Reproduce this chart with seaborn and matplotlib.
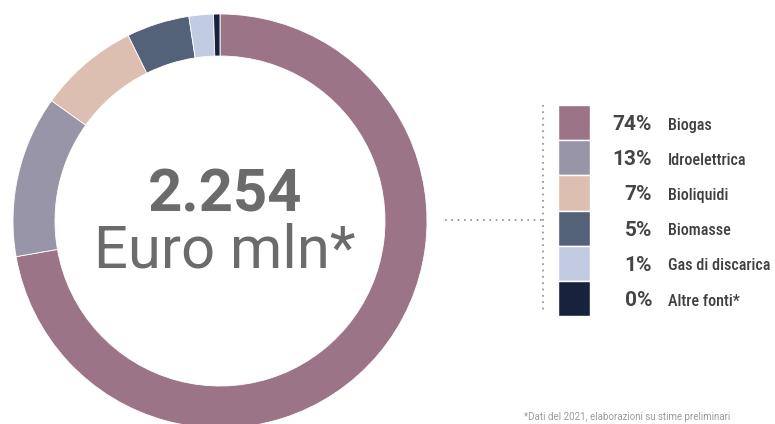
import matplotlib
matplotlib.use("Agg")
import matplotlib.pyplot as plt
import seaborn as sns

sns.set_theme(style="white")
plt.rcParams['font.family'] = ['Roboto', 'DejaVu Sans']

# data
fonti = ["Biogas", "Idroelettrica", "Bioliquidi", "Biomasse", "Gas di discarica", "Altre fonti*"]
quote = [72.1, 12.6, 7.8, 4.9, 1.9, 0.5]          # slice sizes read from the ring
etichette_pct = ["74%", "13%", "7%", "5%", "1%", "0%"]
colori = ["#9b7587", "#9895a8", "#dcbfb0", "#536179", "#c1cce2", "#17233d"]
totale = "2.254"
unita = "Euro mln*"
nota = "*Dati del 2021, elaborazioni su stime preliminari"

W, H = 775, 424
fig = plt.figure(figsize=(W / 100, H / 100), dpi=100)
ax = fig.add_axes([0, 0, 1, 1])

# donut
cx, cy, r = 220, H - 221, 207
ax.pie(quote, colors=colori, startangle=90, counterclock=False,
       center=(cx, cy), radius=r, frame=True,
       wedgeprops=dict(width=42, edgecolor="white", linewidth=0.6))
ax.set_xlim(0, W)
ax.set_ylim(0, H)
ax.set_aspect("equal")
ax.axis("off")

grigio = "#6b6b6b"
ax.text(225, H - 211.5, totale, ha="center", va="baseline", fontsize=43,
        fontweight="bold", color=grigio)
ax.text(225, H - 268, unita, ha="center", va="baseline", fontsize=43,
        color=grigio)

# legend
top, row_h = H - 105, 35.2
ys = [top - row_h * (i + 0.5) for i in range(len(fonti))]
ax.barh(ys, [32] * len(fonti), left=558, height=row_h, color=colori)
narrow = ['Roboto Condensed', 'DejaVu Sans']
for y, pct, lab in zip(ys, etichette_pct, fonti):
    ax.text(652, y - 7.5, pct, ha="right", va="baseline", fontsize=15,
            fontweight="bold", color="#454545")
    ax.text(668, y - 7, lab, ha="left", va="baseline", fontsize=11.6,
            fontweight="medium", color="#404040", family=narrow)

# dotted connectors
ax.plot([543, 543], [H - 105, H - 314], color="#8a8a8a", lw=1.2,
        linestyle=(0, (1, 2.8)))
ax.plot([445, 543], [H - 220, H - 220], color="#8a8a8a", lw=1.2,
        linestyle=(0, (1, 2.8)))

ax.text(524, 2, nota, ha="left", va="bottom", fontsize=7, color="#9a9a9a")

fig.savefig("out.png", dpi=100)
